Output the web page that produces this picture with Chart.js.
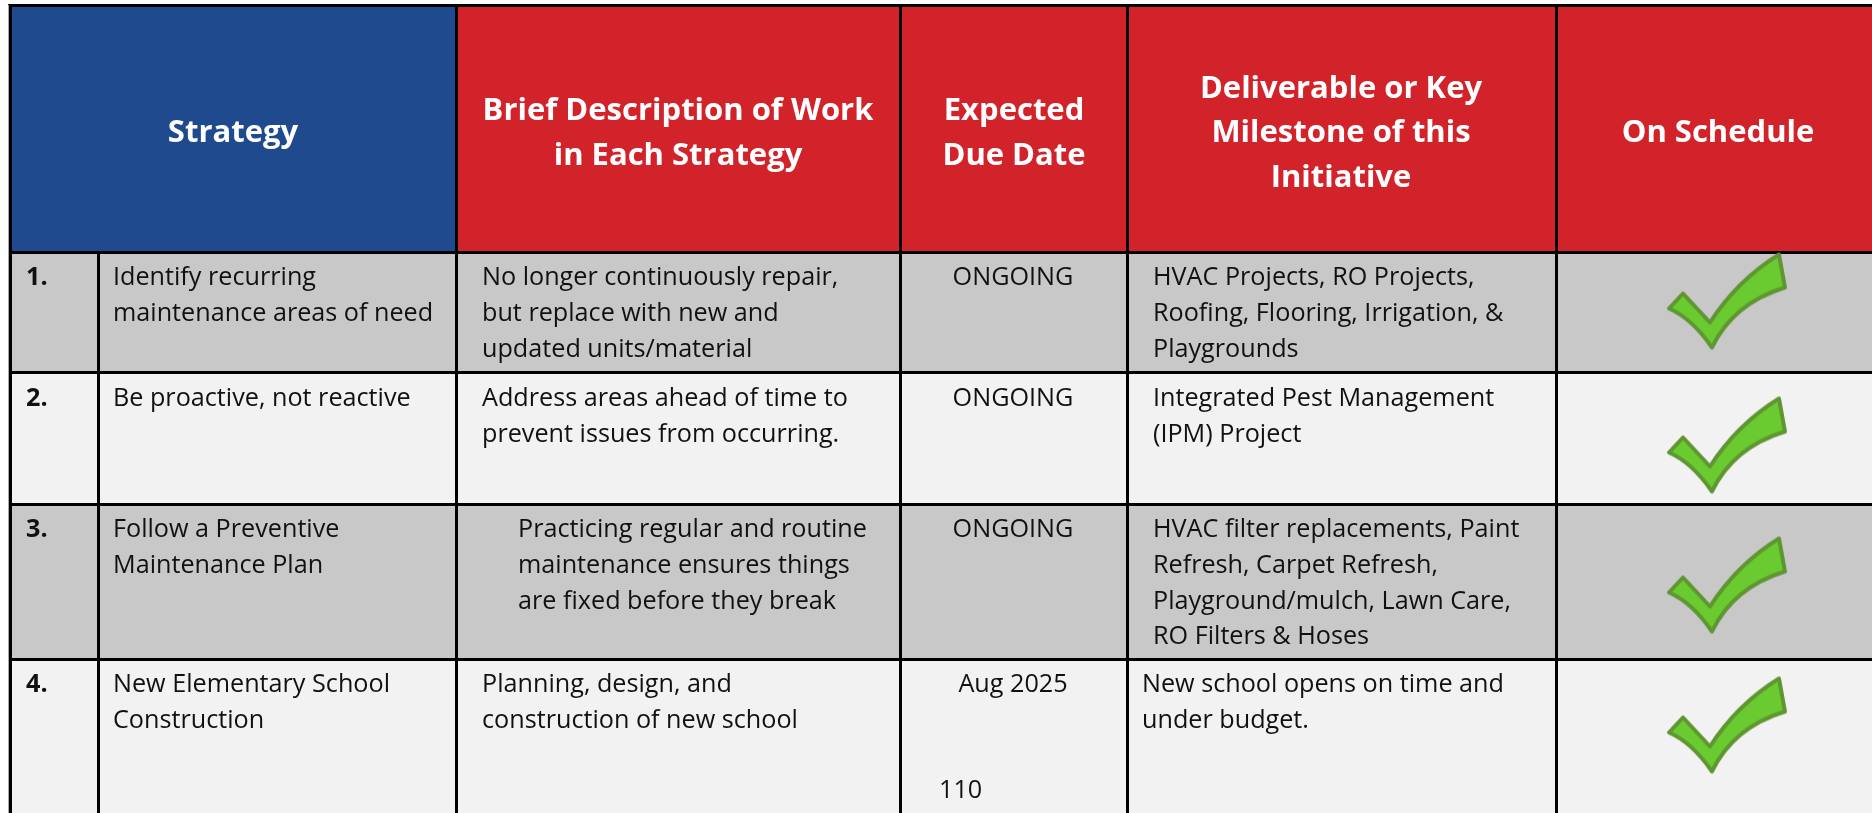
<!DOCTYPE html>
<html>
<head>
<meta charset="utf-8">
<title>Strategy table</title>
<script src="https://cdn.jsdelivr.net/npm/chart.js@4"></script>
<style>
    html, body { margin: 0; padding: 0; background: #ffffff; overflow: hidden; }
    #wrap { width: 1872px; height: 813px; }
</style>
</head>
<body>
<div id="wrap"><canvas id="tableChart"></canvas></div>
<script>
// Table content
const headers = [
    ['Strategy'],
    ['Brief Description of Work', 'in Each Strategy'],
    ['Expected', 'Due Date'],
    ['Deliverable or Key', 'Milestone of this', 'Initiative'],
    ['On Schedule']
];
const rowNumbers = ['1.', '2.', '3.', '4.'];
const strategies = [
    ['Identify recurring', 'maintenance areas of need'],
    ['Be proactive, not reactive'],
    ['Follow a Preventive', 'Maintenance Plan'],
    ['New Elementary School', 'Construction']
];
const descriptions = [
    ['No longer continuously repair,', 'but replace with new and', 'updated units/material'],
    ['Address areas ahead of time to', 'prevent issues from occurring.'],
    ['Practicing regular and routine', 'maintenance ensures things', 'are fixed before they break'],
    ['Planning, design, and', 'construction of new school']
];
const dueDates = ['ONGOING', 'ONGOING', 'ONGOING', 'Aug 2025'];
const deliverables = [
    ['HVAC Projects, RO Projects,', 'Roofing, Flooring, Irrigation, &', 'Playgrounds'],
    ['Integrated Pest Management', '(IPM) Project'],
    ['HVAC filter replacements, Paint', 'Refresh, Carpet Refresh,', 'Playground/mulch, Lawn Care,', 'RO Filters & Hoses'],
    ['New school opens on time and', 'under budget.']
];
const onSchedule = [true, true, true, true];
const pageNumber = '110';

// Layout, in scale units (the scales run 1:1 with the page)
const pageW = 1872;
const pageH = 813;
const colEdges = [10, 98, 456, 900, 1127, 1556, 1872];
const rowEdges = [5, 252, 372, 504, 659, 813];
const textTop = [278, 399, 530, 685];
const descX = [482, 482, 518, 482];
const delivX = [1153, 1153, 1153, 1142];
const checkX = 1727;
const checkY = [301, 445, 585, 725];
const headFont = 'bold 31px "Open Sans"';
const bodyFont = '25.2px "Open Sans"';
const numFont = 'bold 25.2px "Open Sans"';
const BLUE = '#1f4a8e';
const RED = '#d2232a';
const GRAY = '#c8c8c8';
const LIGHT = '#f2f2f2';

// Cells of one band, as floating bars
function cellBars(y0, y1, edges) {
    const mid = (y0 + y1) / 2;
    const data = [];
    for (let i = 0; i < edges.length - 1; i++) {
        data.push({ x: [edges[i], edges[i + 1]], y: mid });
    }
    return { type: 'bar', indexAxis: 'y', grouped: false, barThickness: y1 - y0, data: data, borderWidth: 0, inflateAmount: 0, order: 2 };
}

const headerBand = cellBars(rowEdges[0], rowEdges[1], [colEdges[0], colEdges[2], colEdges[3], colEdges[4], colEdges[5], colEdges[6]]);
headerBand.backgroundColor = [BLUE, RED, RED, RED, RED];

const rowBands = rowNumbers.map((n, i) => {
    const band = cellBars(rowEdges[i + 1], rowEdges[i + 2], colEdges);
    band.backgroundColor = i % 2 === 0 ? GRAY : LIGHT;
    return band;
});

// Check mark picture, used as the point style
function makeCheck() {
    const c = document.createElement('canvas');
    c.width = 130;
    c.height = 105;
    const g = c.getContext('2d');
    g.translate(-1662, -249);
    g.beginPath();
    g.moveTo(1779, 255);
    g.lineTo(1785, 288);
    g.quadraticCurveTo(1733, 304, 1712, 348);
    g.quadraticCurveTo(1692, 319, 1669, 309);
    g.lineTo(1683, 294);
    g.lineTo(1710, 323);
    g.quadraticCurveTo(1737, 281, 1779, 255);
    g.closePath();
    g.fillStyle = '#69cb30';
    g.fill();
    g.lineWidth = 4;
    g.lineJoin = 'round';
    g.strokeStyle = '#5f9632';
    g.stroke();
    return c;
}

const checkPoints = [];
onSchedule.forEach((done, i) => {
    if (done) checkPoints.push({ x: checkX, y: checkY[i] });
});

// Black rules and all the text of the table
const tablePlugin = {
    id: 'tablePlugin',
    afterDatasetDraw(chart, args) {
        // bars are painted last to first, so index 0 is the last band
        if (args.index !== 0) return;
        const { x, y } = chart.scales;
        const ctx = chart.ctx;
        ctx.save();
        ctx.fillStyle = '#000000';
        const left = x.getPixelForValue(colEdges[0]);
        const right = x.getPixelForValue(colEdges[6]);
        rowEdges.slice(0, 5).forEach(v => {
            ctx.fillRect(left - 2, y.getPixelForValue(v) - 1, right - left + 2, 3);
        });
        colEdges.slice(0, 6).forEach((v, i) => {
            const from = i === 1 ? rowEdges[1] : rowEdges[0];
            const top = y.getPixelForValue(from);
            ctx.fillRect(x.getPixelForValue(v) - 1, top, 3, y.getPixelForValue(pageH) - top);
        });
        ctx.fillStyle = '#a8a8a8';
        const top = y.getPixelForValue(rowEdges[0]);
        ctx.fillRect(left - 2, top, 1, y.getPixelForValue(pageH) - top);
        ctx.restore();
    },
    afterDatasetsDraw(chart) {
        const { x, y } = chart.scales;
        const ctx = chart.ctx;
        ctx.save();
        ctx.textBaseline = 'middle';

        const lines = (list, px, py, step) => {
            list.forEach((t, i) => ctx.fillText(t, x.getPixelForValue(px), y.getPixelForValue(py + i * step)));
        };

        // Header
        ctx.font = headFont;
        ctx.fillStyle = '#ffffff';
        ctx.textAlign = 'center';
        const headCx = [233, 678, 1014, 1341, 1718];
        const headMid = 133.5;
        const headStep = 44.8;
        headers.forEach((h, i) => {
            lines(h, headCx[i], headMid - (h.length - 1) * headStep / 2, headStep);
        });

        // Rows
        ctx.fillStyle = '#111111';
        rowNumbers.forEach((n, i) => {
            const top = textTop[i];
            ctx.textAlign = 'left';
            ctx.font = numFont;
            lines([n], 26, top, 36);
            ctx.font = bodyFont;
            lines(strategies[i], 113, top, 36);
            lines(descriptions[i], descX[i], top, 36);
            lines(deliverables[i], delivX[i], top, 35.7);
            ctx.textAlign = 'center';
            lines([dueDates[i]], 1013, top, 36);
        });

        ctx.textAlign = 'left';
        lines([pageNumber], 939, 791, 36);
        ctx.restore();
    }
};

new Chart(document.getElementById('tableChart'), {
    type: 'bar',
    data: {
        datasets: [headerBand, ...rowBands, {
            type: 'scatter',
            data: checkPoints,
            pointStyle: makeCheck(),
            pointRadius: 1,
            clip: false,
            order: 1
        }]
    },
    options: {
        responsive: true,
        maintainAspectRatio: false,
        animation: false,
        // no automatic padding, the scales have to fill the whole canvas
        layout: { padding: 0, autoPadding: false },
        plugins: { legend: { display: false }, tooltip: { enabled: false } },
        scales: {
            x: { type: 'linear', display: false, min: 0, max: pageW, offset: false },
            y: { type: 'linear', display: false, min: 0, max: pageH, reverse: true, offset: false }
        }
    },
    plugins: [tablePlugin]
});
</script>
</body>
</html>
